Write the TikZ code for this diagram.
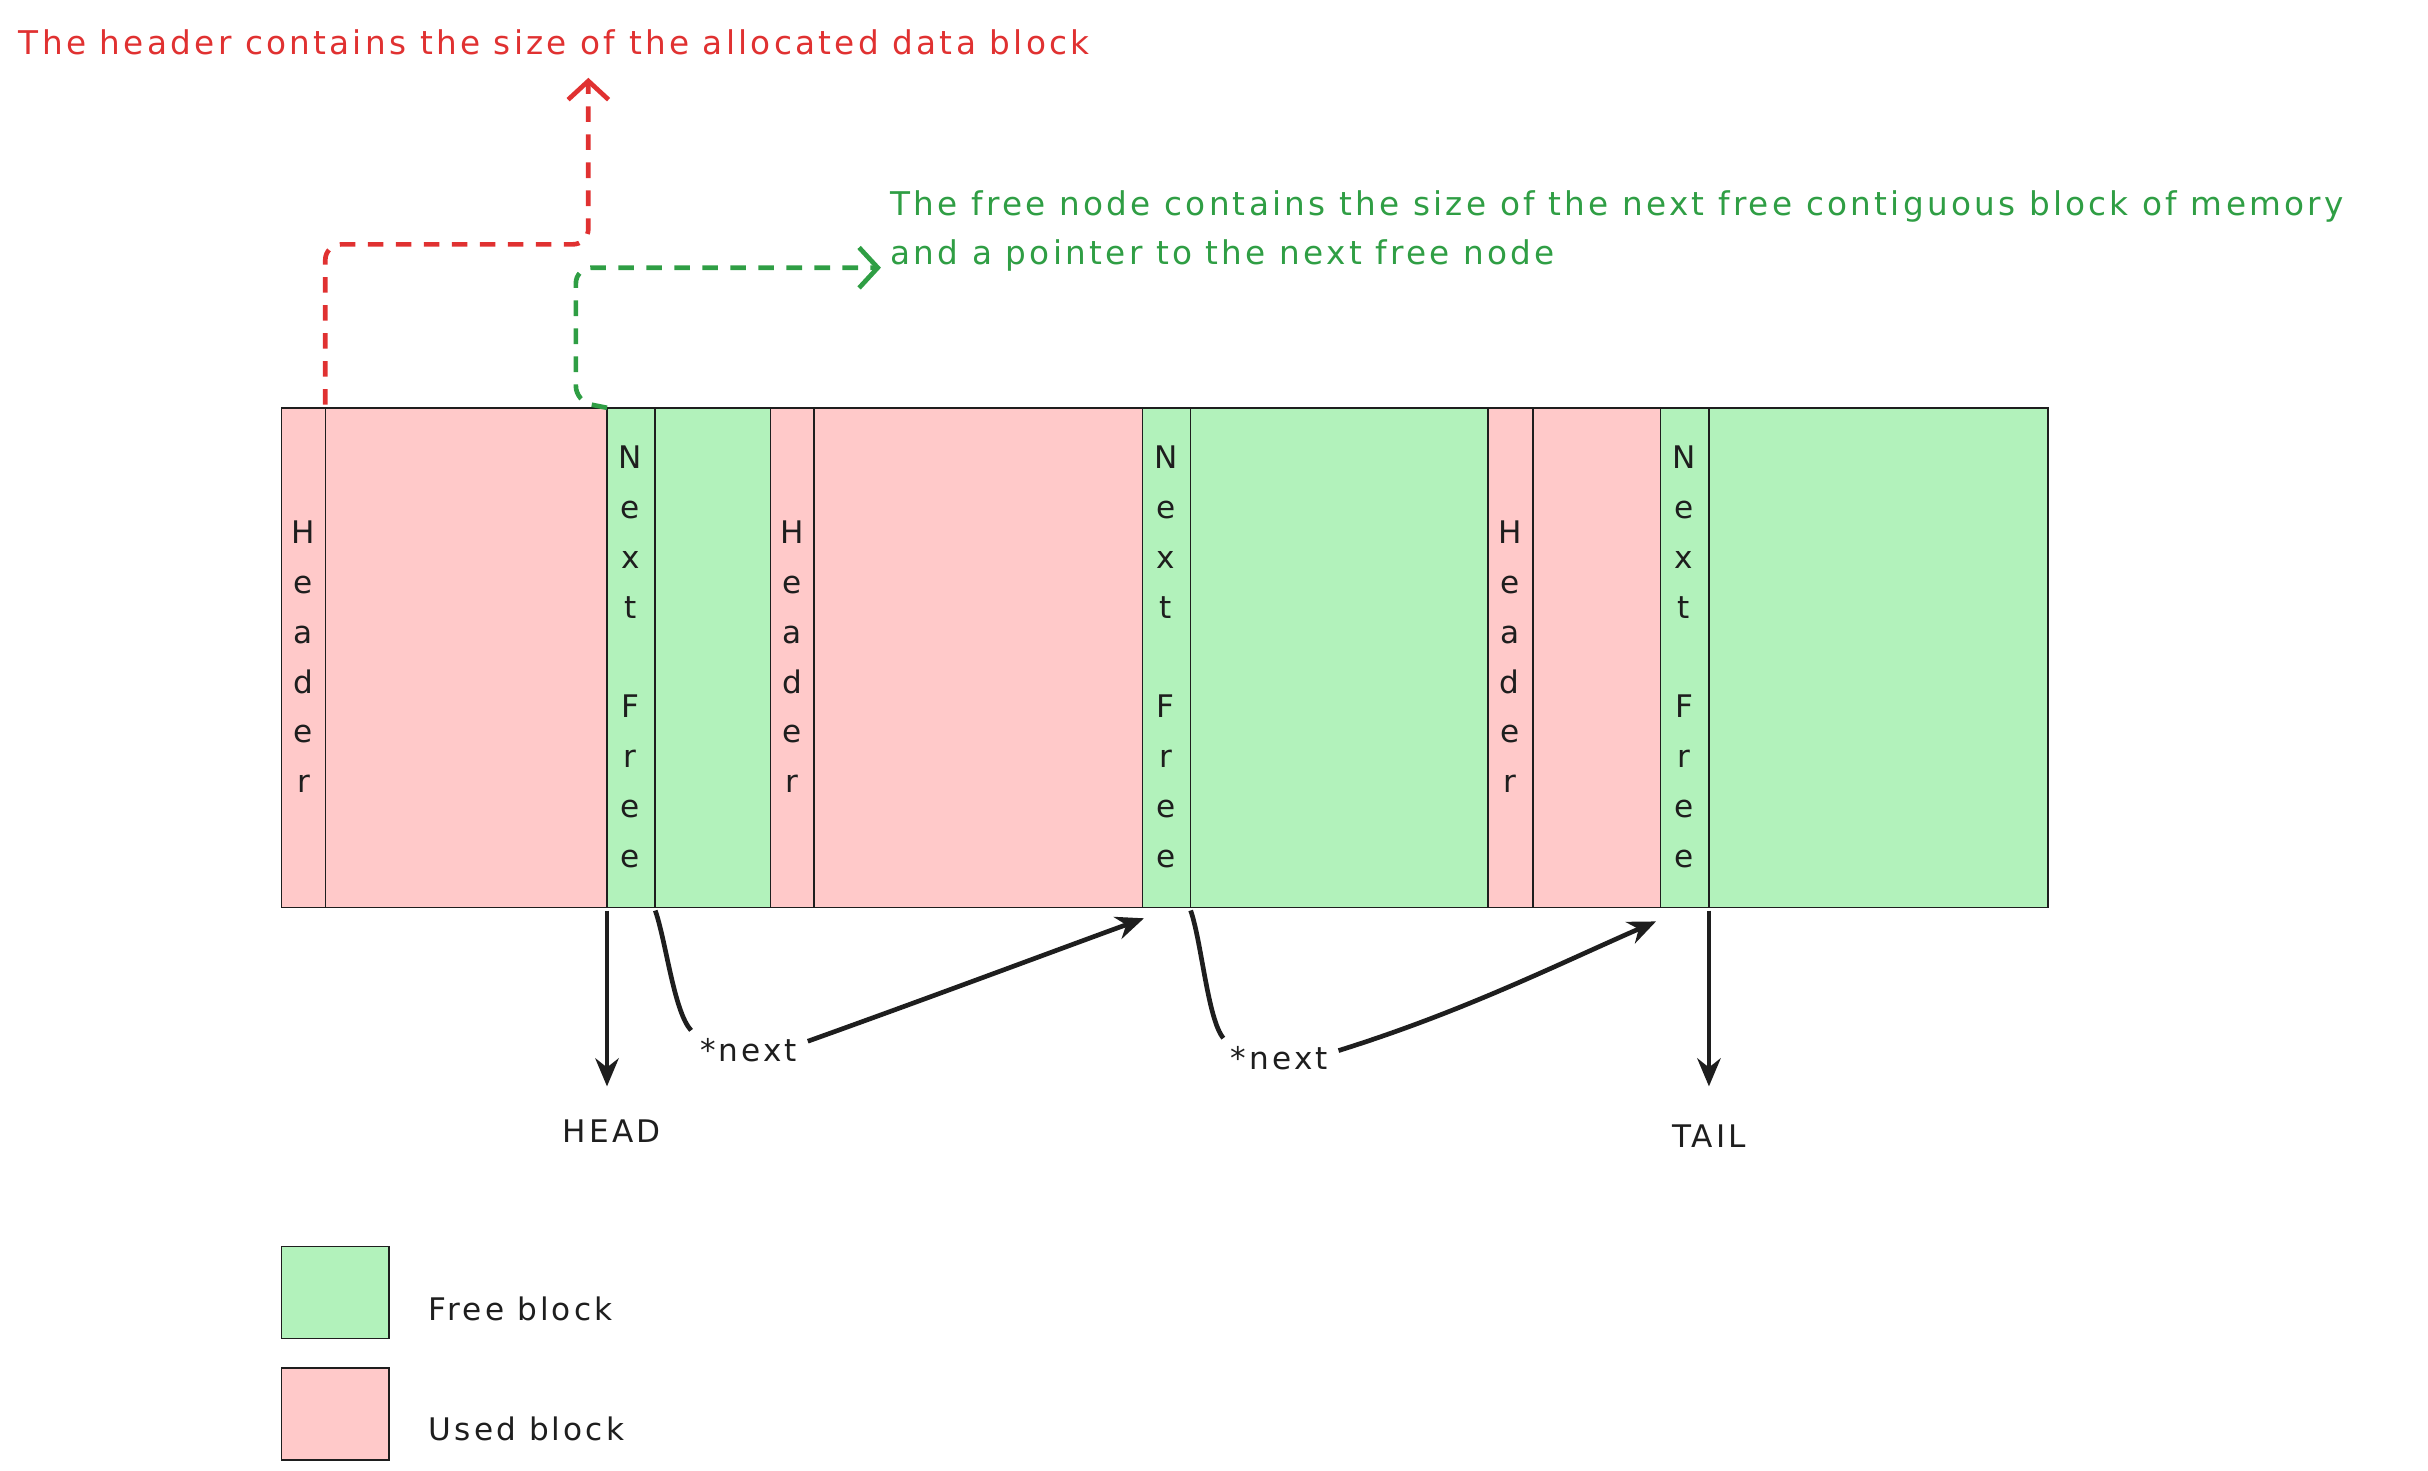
\documentclass[tikz,border=0pt]{standalone}
\usepackage{fontspec}
\setmainfont[LetterSpace=10]{DejaVu Sans}
\usetikzlibrary{arrows.meta}
\definecolor{usedc}{HTML}{FFC9C9}
\definecolor{freec}{HTML}{B2F2BB}
\definecolor{redc}{HTML}{E03131}
\definecolor{greenc}{HTML}{2F9E44}
\definecolor{inkc}{HTML}{1E1E1E}
\begin{document}
\begin{tikzpicture}[x=1pt,y=-1pt,
  seg/.style={draw=inkc,line width=1pt},
  used/.style={seg,fill=usedc},
  free/.style={seg,fill=freec},
  lbl/.style={font=\fontsize{20}{24}\selectfont,text=inkc},
  vtxt/.style={font=\fontsize{20}{32}\selectfont,text=inkc,align=center,inner sep=0pt},
  ptr/.style={draw=inkc,line width=3pt,-{Stealth[length=18pt,width=15pt]}},
  note/.style={dashed,dash pattern=on 10pt off 8pt,line width=3pt,rounded corners=10pt,-{Straight Barb[length=12pt,width=26pt]}}]
\useasboundingbox (0,0) rectangle (1560,945);
% segments
\path[used] (181,262) rectangle (209,583);
\path[used] (209,262) rectangle (390,583);
\path[free] (390,262) rectangle (421,583);
\path[free] (421,262) rectangle (495,583);
\path[used] (495,262) rectangle (523,583);
\path[used] (523,262) rectangle (734,583);
\path[free] (734,262) rectangle (765,583);
\path[free] (765,262) rectangle (956,583);
\path[used] (956,262) rectangle (985,583);
\path[used] (985,262) rectangle (1067,583);
\path[free] (1067,262) rectangle (1098,583);
\path[free] (1098,262) rectangle (1316,583);
% vertical labels
\foreach \x/\n in {195/h1,509/h2,970/h3}
  \node[vtxt] (\n) at (\x,422) {H\\e\\a\\d\\e\\r};
\foreach \x/\n in {405/f1,749/f2,1082/f3}
  \node[vtxt] (\n) at (\x,422) {N\\e\\x\\t\\[32pt]F\\r\\e\\e};
\coordinate (f1b) at (390,585);
\coordinate (f1r) at (421,585);
\coordinate (f2l) at (735,590);
\coordinate (f2r) at (765,585);
\coordinate (f3l) at (1064,592);
\coordinate (f3b) at (1098,585);
\node[lbl] (head) at (393,727) {HEAD};
\node[lbl] (tail) at (1098,730) {TAIL};
\node[lbl] (n1) at (481,675) {*next};
\node[lbl] (n2) at (822,680) {*next};
\coordinate (hA) at (390,698);
\coordinate (tA) at (1098,698);
\draw[ptr] (f1b) -- (hA);
\draw[ptr] (f3b) -- (tA);
\draw[line width=3pt,draw=inkc] (f1r) .. controls (428,605) and (433,650) .. (444,662);
\draw[ptr] (519,669) .. controls (600,640) and (680,610) .. (f2l);
\draw[line width=3pt,draw=inkc] (f2r) .. controls (772,605) and (776,655) .. (786,667);
\draw[ptr] (860,675) .. controls (940,650) and (1000,620) .. (f3l);
% notes
\node[anchor=west,font=\fontsize{21}{24}\selectfont,text=redc,inner sep=0pt] (rt) at (12,27) {The header contains the size of the allocated data block};
\node[anchor=north west,font=\fontsize{21}{32}\selectfont,text=greenc,align=left,inner sep=0pt] (gt) at (572,122) {The free node contains the size of the next free contiguous block of memory\\and a pointer to the next free node};
\draw[note,draw=redc] (209,260) -- (209,157) -- (378,157) -- (378,50);
\draw[note,draw=greenc] (390,262) -- (370,258) -- (370,172) -- (566,172);
% legend
\path[free] (181,801) rectangle (250,860);
\path[used] (181,879) rectangle (250,938);
\node[lbl,anchor=west] (lf) at (272,841) {Free block};
\node[lbl,anchor=west] (lu) at (272,918) {Used block};
\end{tikzpicture}
\end{document}
